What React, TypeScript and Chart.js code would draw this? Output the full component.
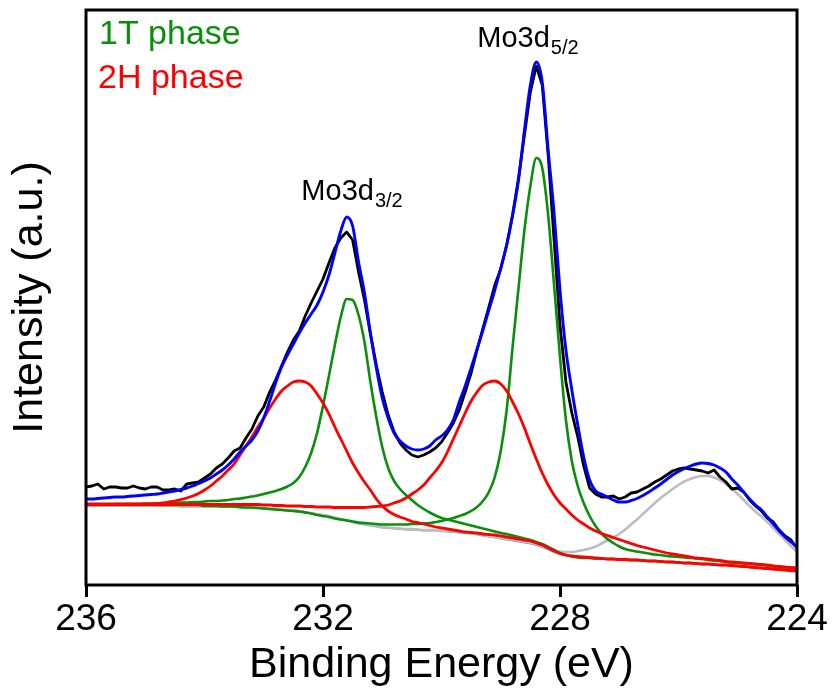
import React, { useEffect, useRef } from 'react';
import { Chart, registerables } from 'chart.js';

Chart.register(...registerables);

// Binding energy grid (eV)
const ENERGY = [
  236.0, 235.9, 235.8, 235.7, 235.6, 235.5, 235.4, 235.3, 235.2, 235.1,
  235.0, 234.9, 234.8, 234.7, 234.6, 234.5, 234.4, 234.3, 234.2, 234.1,
  234.0, 233.9, 233.8, 233.7, 233.6, 233.5, 233.4, 233.3, 233.2, 233.1,
  233.0, 232.9, 232.8, 232.7, 232.6, 232.5, 232.4, 232.3, 232.2, 232.1,
  232.0, 231.9, 231.8, 231.7, 231.6, 231.5, 231.4, 231.3, 231.2, 231.1,
  231.0, 230.9, 230.8, 230.7, 230.6, 230.5, 230.4, 230.3, 230.2, 230.1,
  230.0, 229.9, 229.8, 229.7, 229.6, 229.5, 229.4, 229.3, 229.2, 229.1,
  229.0, 228.9, 228.8, 228.7, 228.6, 228.5, 228.4, 228.3, 228.2, 228.1,
  228.0, 227.9, 227.8, 227.7, 227.6, 227.5, 227.4, 227.3, 227.2, 227.1,
  227.0, 226.9, 226.8, 226.7, 226.6, 226.5, 226.4, 226.3, 226.2, 226.1,
  226.0, 225.9, 225.8, 225.7, 225.6, 225.5, 225.4, 225.3, 225.2, 225.1,
  225.0, 224.9, 224.8, 224.7, 224.6, 224.5, 224.4, 224.3, 224.2, 224.1,
  224.0,
];

// Measured spectrum (a.u.)
const RAW = [
  98, 99, 101, 96, 98, 98, 97, 97, 99, 97,
  96, 98, 98, 95, 95, 96, 94, 101, 102, 103,
  107, 111, 117, 121, 127, 134, 137, 147, 156, 169,
  178, 193, 205, 219, 233, 245, 254, 269, 282, 294,
  306, 322, 337, 347, 353, 345, 313, 285, 251, 220,
  193, 170, 153, 142, 135, 130, 128, 130, 133, 137,
  143, 152, 162, 175, 193, 212, 235, 257, 278, 300,
  316, 340, 370, 407, 450, 493, 519, 500, 430, 345,
  260, 203, 172, 148, 119, 97, 91, 88, 88, 89,
  86, 88, 92, 93, 96, 99, 103, 106, 110, 114,
  116, 117, 116, 115, 114, 112, 115, 108, 103, 96,
  97, 93, 85, 79, 74, 67, 63, 55, 49, 45,
  37,
];

// Fitted envelope
const ENVELOPE = [
  86, 86, 86.5, 87, 87.5, 88, 88, 88.5, 89, 89.5,
  90, 90.5, 91, 92, 93, 94, 95.5, 97, 99, 101.5,
  104, 107, 111, 115, 120, 126, 133, 139, 145, 154,
  167, 184, 202, 218, 230, 241, 252, 262, 271, 280,
  293, 310, 332, 354, 368, 359, 323, 292, 252, 217,
  187, 167, 152, 144, 139, 136, 135, 136, 139, 145,
  149, 155, 165, 183, 199, 217, 236, 255, 275, 295,
  317, 340, 370, 405, 455, 500, 523, 503, 435, 372,
  295, 235, 195, 160, 128, 105, 94, 91, 88, 85,
  83, 83, 84.5, 86.5, 89.5, 93, 97, 101, 105.5, 110,
  113.5, 116.5, 119, 121, 122, 121.5, 120, 117, 113, 106,
  100, 93, 86, 80, 75, 68, 61, 54, 48, 43,
  38,
];

// 1T phase, Mo3d3/2 component
const T1_D32 = [
  80.5, 80.5, 80.5, 80.5, 80.5, 81, 81, 81, 81, 81,
  81.5, 81.5, 81.5, 82, 82, 82.5, 82.5, 82.5, 83, 83,
  83.5, 84, 84, 84.5, 85, 86, 86.5, 87.5, 88.5, 89.5,
  91, 92.5, 94, 96, 98.5, 102, 108, 118, 132, 152,
  179, 209, 240, 268, 286, 285, 270, 243, 203, 168,
  138, 117, 104, 96, 90, 85, 80, 76, 72.5, 69.5,
  67, 65.5, 64, 62.5, 61, 59.5, 58, 56.5, 55, 53.5,
  52, 51, 49.5, 48, 46.5, 45, 43, 41, 38, 35,
  32, 30, 28.5, 27.5, 27, 27, 26.5, 26.5, 26, 26,
  25.5, 25.5, 25, 25, 24.5, 24, 24, 23.5, 23, 23,
  22.5, 22, 22, 21.5, 21, 21, 20.5, 20, 20, 19.5,
  19, 18.5, 18, 17.5, 17, 16.5, 16, 15.5, 15, 14.5,
  14,
];

// 1T phase, Mo3d5/2 component
const T1_D52 = [
  80, 80, 80, 80, 80, 80, 80, 80, 80, 80,
  80, 80, 80, 80, 80, 80, 80, 80, 80, 80,
  79, 79, 79, 78.5, 78.5, 78.5, 78, 77.5, 77.5, 77,
  76.5, 76, 75.5, 75, 74.5, 74, 73.5, 72.5, 71.5, 70,
  69, 68, 66.5, 65.5, 64.5, 63.5, 62.5, 62, 61.5, 61,
  60.5, 60.5, 60.5, 60.5, 60.5, 61, 61, 61.5, 62, 63,
  64, 65.5, 67, 69, 71, 74, 78, 84, 93, 108,
  134, 175, 238, 297, 355, 399, 427, 417, 370, 300,
  228, 165, 124, 99, 82, 69, 59, 51.5, 46, 42,
  38.5, 36, 34.5, 33.5, 32.5, 31.5, 30.5, 30, 29, 28.5,
  28, 27.5, 27, 26.5, 26, 25, 24.5, 24, 23, 22.5,
  22, 21.5, 21, 20.5, 20, 19.5, 18.5, 18, 17.5, 17,
  16,
];

// 2H phase, Mo3d3/2 component
const H2_D32 = [
  81, 81, 81, 81, 81, 81, 81, 81, 81, 81,
  81, 81, 81.5, 82, 83, 84, 85.5, 87, 89, 91.5,
  95, 99, 104, 109, 115, 121, 130, 139, 148, 158,
  167, 177, 186, 194, 199, 203, 204, 203, 199, 191,
  182, 171, 158, 146, 134, 122, 112, 103, 95, 86,
  79, 74, 70.5, 68, 66, 63.5, 62.5, 61, 59.5, 58,
  57, 56, 55, 54, 53, 52.5, 52, 51, 50.5, 50,
  49, 48, 47, 46, 45, 44, 42, 40, 37, 34,
  31.5, 30, 29, 28.5, 28, 27.5, 27, 26.5, 26, 26,
  25.5, 25.5, 25, 25, 24.5, 24, 24, 23.5, 23, 23,
  22.5, 22, 22, 21.5, 21, 21, 20.5, 20, 20, 19.5,
  19, 18.5, 18, 17.5, 17, 16.5, 16, 15.5, 15, 14.5,
  14,
];

// 2H phase, Mo3d5/2 component
const H2_D52 = [
  80.5, 80.5, 80.5, 80.5, 80.5, 80.5, 80.5, 80.5, 80.5, 80.5,
  80.5, 80.5, 80.5, 80.5, 80.5, 80.5, 80.5, 80.5, 80.5, 80.5,
  80.5, 80.5, 80.5, 80.5, 80.5, 80.5, 80.5, 80.5, 80.5, 80.5,
  80, 80, 79.5, 79.5, 79, 79, 79, 78.5, 78.5, 78,
  78, 78, 77.5, 77.5, 77.5, 77.5, 77.5, 77.5, 78, 78.5,
  79, 80, 82, 84, 87, 91, 95, 100, 107, 114,
  122, 133, 146, 159, 172, 184, 193, 200, 203, 204,
  201, 194, 183, 171, 157, 141, 126, 112, 100, 90,
  82, 76, 70, 65, 61, 57, 54, 51.5, 49.5, 47.5,
  45.5, 43.5, 41.5, 39.5, 38, 36.5, 35, 33.5, 32, 31,
  30, 29, 28, 27, 26.5, 26, 25, 24.5, 23.5, 23,
  22.5, 22, 21.5, 21, 20.5, 20, 19, 18.5, 18, 17.5,
  17,
];

// Satellite component (grey)
const SATELLITE = [
  80, 80, 80, 80, 80, 80, 80, 80, 80, 80,
  80, 80, 80, 79.5, 79.5, 79.5, 79, 79, 79, 79,
  79, 79, 79, 78.5, 78.5, 78.5, 78, 78, 77.5, 77.5,
  77, 76.5, 76, 75.5, 75, 74.5, 74, 73, 72, 71,
  70, 69, 67.5, 66, 65, 63.5, 62, 61, 60, 59,
  58, 57.5, 57, 56.5, 56, 56, 55.5, 55, 55, 55,
  54.5, 54, 53.5, 53, 52.5, 52, 51, 50, 49, 48,
  47, 46.5, 45.5, 45, 44, 42.5, 41, 39, 37, 35,
  33.5, 33, 33, 34, 35, 36.5, 38.5, 41.5, 44.5, 47.5,
  51, 55.5, 60.5, 65.5, 71, 76.5, 82, 87, 91.5, 96,
  100, 103.5, 106, 108, 109, 109, 107.5, 105, 101, 96.5,
  91, 85, 79, 73.5, 68.5, 63, 57, 51, 45, 39,
  33,
];

// Background
const BACKGROUND = [
  79, 79, 79, 79, 79, 79, 79, 79, 79, 79,
  79, 79, 79, 78.5, 78.5, 78.5, 78, 78, 78, 78,
  78, 78, 78, 77.5, 77.5, 77.5, 77, 77, 76.5, 76.5,
  76, 75.5, 75, 74.5, 74, 73.5, 73, 72, 71, 70,
  69, 68, 66.5, 65, 64, 62.5, 61, 60, 59, 58,
  57, 56.5, 56, 55.5, 55, 55, 54.5, 54, 54, 54,
  53.5, 53, 52.5, 52, 51.5, 51, 50, 49, 48, 47,
  46, 45, 44, 43, 42, 41, 39.5, 37.5, 35, 32.5,
  30.5, 29, 28, 27.5, 27, 26.5, 26, 26, 25.5, 25.5,
  25, 25, 24.5, 24.5, 24, 23.5, 23.5, 23, 22.5, 22.5,
  22, 21.5, 21.5, 21, 20.5, 20.5, 20, 19.5, 19.5, 19,
  18.5, 18, 17.5, 17, 16.5, 16, 15.5, 15, 14.5, 14,
  13.5,
];

const X_TICKS = [236, 232, 228, 224];
const LEGEND_TEXTS = ['1T phase', '2H phase'];
const PEAK_LABELS = ['3/2', '5/2'];
const PEAK_LABEL_ENERGY = [231.51, 228.54];
const PEAK_LABEL_LEVEL = [385, 538];

const GREEN = '#0a8f0a';
const RED = '#ff0000';
const BLUE = '#0000ff';
const GREY = '#bdbdbd';
const LIGHTBLUE = '#5b9bd5';
const FONT = '"Liberation Sans", Arial, Helvetica, sans-serif';

export default function App() {
  const ref = useRef<HTMLCanvasElement>(null);

  useEffect(() => {
    if (!ref.current) return;
    const pts = (arr: number[]) => ENERGY.map((x, i) => ({ x, y: arr[i] }));
    const line = (label: string, arr: number[], color: string, width: number, order: number, smooth = true) => ({
      label,
      data: pts(arr),
      borderColor: color,
      backgroundColor: color,
      borderWidth: width,
      pointRadius: 0,
      fill: false,
      order,
      borderJoinStyle: 'round',
      borderCapStyle: 'round',
      cubicInterpolationMode: smooth ? 'monotone' : 'default',
      tension: 0,
    });

    const overlay = {
      id: 'overlay',
      afterDatasetsDraw(chart: any) {
        const { ctx, chartArea: a, scales } = chart;
        const xs = scales.x;
        const ys = scales.y;
        ctx.save();
        ctx.textBaseline = 'alphabetic';
        ctx.textAlign = 'left';
        ctx.font = `34px ${FONT}`;
        ctx.fillStyle = GREEN;
        ctx.fillText(LEGEND_TEXTS[0], a.left + 13, a.top + 34);
        ctx.fillStyle = RED;
        ctx.fillText(LEGEND_TEXTS[1], a.left + 12, a.top + 78);

        ctx.fillStyle = '#000';
        PEAK_LABELS.forEach((sub, k) => {
          const cx = xs.getPixelForValue(PEAK_LABEL_ENERGY[k]);
          const by = ys.getPixelForValue(PEAK_LABEL_LEVEL[k]);
          ctx.font = `29px ${FONT}`;
          const w1 = ctx.measureText('Mo3d').width;
          ctx.font = `20px ${FONT}`;
          const w2 = ctx.measureText(sub).width;
          const x0 = cx - (w1 + w2 + 1) / 2;
          ctx.font = `29px ${FONT}`;
          ctx.fillText('Mo3d', x0, by);
          ctx.font = `20px ${FONT}`;
          ctx.fillText(sub, x0 + w1 + 1, by + 7);
        });
        ctx.restore();
      },
      afterDraw(chart: any) {
        const { ctx, chartArea: a } = chart;
        ctx.save();
        ctx.strokeStyle = '#000';
        ctx.lineWidth = 3;
        ctx.strokeRect(a.left, a.top, a.right - a.left, a.bottom - a.top);
        ctx.restore();
      },
    };

    const chart = new Chart(ref.current, {
      type: 'line',
      data: {
        datasets: [
          line('Raw', RAW, '#000000', 2.8, 2, false),
          line('Envelope', ENVELOPE, BLUE, 2.9, 1),
          line('2H 3d3/2', H2_D32, RED, 2.8, 3),
          line('2H 3d5/2', H2_D52, RED, 2.8, 3),
          line('1T 3d3/2', T1_D32, GREEN, 2.6, 4),
          line('1T 3d5/2', T1_D52, GREEN, 2.6, 4),
          line('Satellite', SATELLITE, GREY, 2.6, 5),
          line('Background', BACKGROUND, LIGHTBLUE, 1, 6),
        ] as any,
      },
      options: {
        animation: false,
        responsive: true,
        maintainAspectRatio: false,
        layout: { padding: { top: 10, right: 38, left: 0, bottom: 0 } },
        plugins: { legend: { display: false }, tooltip: { enabled: false } },
        scales: {
          x: {
            type: 'linear',
            min: 224,
            max: 236,
            reverse: true,
            afterBuildTicks: (s: any) => {
              s.ticks = X_TICKS.map((v) => ({ value: v }));
            },
            afterFit: (s: any) => {
              s.height = 110;
            },
            grid: {
              display: true,
              drawOnChartArea: false,
              drawTicks: true,
              tickLength: 12,
              lineWidth: 3,
              color: '#000',
            },
            border: { display: false },
            ticks: {
              color: '#000',
              font: { family: FONT, size: 37 },
              padding: 1,
              maxRotation: 0,
              autoSkip: false,
            },
            title: {
              display: true,
              text: 'Binding Energy (eV)',
              color: '#000',
              font: { family: FONT, size: 43 },
              padding: { top: 0, bottom: 4 },
            },
          },
          y: {
            type: 'linear',
            min: 0,
            max: 575,
            afterFit: (s: any) => {
              s.width = 86;
            },
            grid: { display: false },
            border: { display: false },
            ticks: { display: false },
            title: {
              display: true,
              text: 'Intensity (a.u.)',
              color: '#000',
              font: { family: FONT, size: 43 },
              padding: { top: 4, bottom: 0 },
            },
          },
        },
      },
      plugins: [overlay],
    } as any);

    return () => chart.destroy();
  }, []);

  return (
    <div style={{ position: 'fixed', left: 0, top: 0, width: 835, height: 695, background: '#fff' }}>
      <canvas ref={ref} />
    </div>
  );
}
